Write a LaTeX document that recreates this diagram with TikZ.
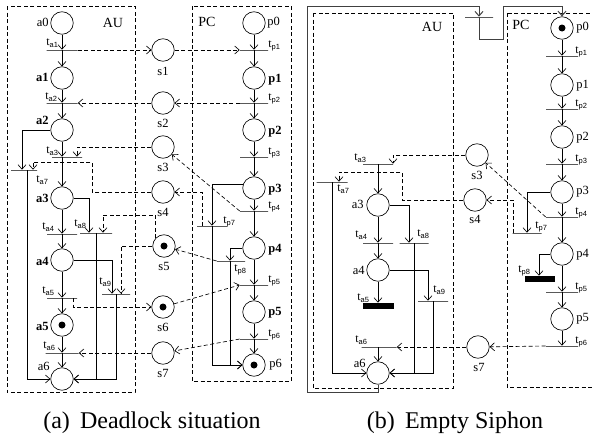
\documentclass[tikz,border=0pt]{standalone}
\usepackage{fontspec}
\setmainfont{Liberation Serif}
\setsansfont{Liberation Sans}
\usetikzlibrary{arrows.meta}
\newcommand\trn[1]{t\raisebox{-2.5pt}{\fontsize{7.5}{8}\selectfont\sffamily #1}}
\begin{document}
\begin{tikzpicture}[x=1pt,y=-1pt,line width=0.65pt,
  >={Straight Barb[length=4.5pt,width=8pt]},
  place/.style={circle,draw,minimum size=22.5pt,inner sep=0pt},
  tok/.style={path picture={\fill (path picture bounding box.center) circle (3.5pt);}},
  tbar/.style={draw,minimum height=0pt,inner sep=0pt,minimum width=#1},
  tbar/.default=30pt,
  bbar/.style={fill=black,minimum height=6pt,inner sep=0pt,minimum width=#1},
  bbar/.default=30pt,
  sarc/.style={->},
  darc/.style={->,dash pattern=on 4pt off 2.5pt},
  dbox/.style={dash pattern=on 4pt off 2.5pt},
  loopc/.style={draw=black!75,line width=1pt},
  lbl/.style={inner sep=0pt,font=\fontsize{12.5}{14}\selectfont},
  blbl/.style={inner sep=0pt,font=\fontsize{12.5}{14}\selectfont\bfseries},
  tlbl/.style={inner sep=0pt,anchor=base west,font=\fontsize{12}{14}\selectfont},
  boxlbl/.style={inner sep=0pt,font=\fontsize{14}{16}\selectfont},
  captxt/.style={inner sep=0pt,anchor=base,font=\fontsize{24}{28}\selectfont}]
\useasboundingbox (0,0) rectangle (592,434);

% ================= panel (a) =================
\draw[dbox] (7,6) rectangle (135,392);
\draw[dbox] (192,6) rectangle (291,381);
\node[boxlbl] (lauA) at (113,23) {AU};
\node[boxlbl] (lpcA) at (207,22) {PC};

% places AU
\node[place] (a0) at (62,23) {};
\node[place] (a1) at (62,78) {};
\node[place] (a2) at (62,130) {};
\node[place] (a3) at (62,198) {};
\node[place] (a4) at (62,260) {};
\node[place,tok] (a5) at (62,325) {};
\node[place] (a6) at (62,379) {};
% transitions AU
\node[tbar=31pt] (ta1) at (62,50) {};
\node[tbar=31pt] (ta2) at (62,103) {};
\node[tbar=30pt] (ta3) at (67,157) {};
\node[tbar=30pt] (ta4) at (62,234) {};
\node[tbar=30pt] (ta5) at (62,298) {};
\node[tbar=33pt] (ta6) at (62,353) {};
\node[tbar=26pt] (ta7) at (24,170) {};
\node[tbar=32pt] (ta8) at (96,233) {};
\node[tbar=28pt] (ta9) at (116,294) {};
% shared places
\node[place] (s1) at (163,50) {};
\node[place] (s2) at (163,103) {};
\node[place] (s3) at (163,147) {};
\node[place] (s4) at (163,192) {};
\node[place,tok] (s5) at (164,246) {};
\node[place,tok] (s6) at (163,307) {};
\node[place] (s7) at (163,353) {};
% places PC
\node[place] (p0) at (254,23) {};
\node[place] (p1) at (254,78) {};
\node[place] (p2) at (254,130) {};
\node[place] (p3) at (254,188) {};
\node[place] (p4) at (254,248) {};
\node[place] (p5) at (254,312) {};
\node[place,tok] (p6) at (254,365) {};
% transitions PC
\node[tbar=28pt] (tp1) at (254,50) {};
\node[tbar=28pt] (tp2) at (254,103) {};
\node[tbar=28pt] (tp3) at (254,157) {};
\node[tbar=28pt] (tp4) at (254,211) {};
\node[tbar=28pt] (tp5) at (254,285) {};
\node[tbar=28pt] (tp6) at (254,339) {};
\node[tbar=30pt] (tp7) at (212,226) {};
\node[tbar=28pt] (tp8) at (231,261) {};

% solid arcs AU
\draw[sarc] (a0) -- (ta1);
\draw[sarc] (ta1) -- (a1);
\draw[sarc] (a1) -- (ta2);
\draw[sarc] (ta2) -- (a2);
\draw[sarc] (a2) -- (a2 |- ta3.north);
\draw[sarc] (a3 |- ta3.south) -- (a3);
\draw[sarc] (a3) -- (ta4);
\draw[sarc] (ta4) -- (a4);
\draw[sarc] (a4) -- (ta5);
\draw[sarc] (ta5) -- (a5);
\draw[sarc] (a5) -- (ta6);
\draw[sarc] (ta6) -- (a6);
\draw[sarc] (a2.west) -| ([xshift=-2pt]ta7.north);
\draw[sarc] ([xshift=3pt]ta7.south) |- (a6.west);
\draw[sarc] (a3.east) -| ([xshift=-7pt]ta8.north);
\draw[sarc] (ta8.south) |- (a6.east);
\draw[sarc] (a4.east) -| ([xshift=-4pt]ta9.north);
\draw[sarc] (ta9.south) |- (a6.east);
% solid arcs PC
\draw[sarc] (p0) -- (tp1);
\draw[sarc] (tp1) -- (p1);
\draw[sarc] (p1) -- (tp2);
\draw[sarc] (tp2) -- (p2);
\draw[sarc] (p2) -- (tp3);
\draw[sarc] (tp3) -- (p3);
\draw[sarc] (p3) -- (tp4);
\draw[sarc] (tp4) -- (p4);
\draw[sarc] (p4) -- (tp5);
\draw[sarc] (tp5) -- (p5);
\draw[sarc] (p5) -- (tp6);
\draw[sarc] (tp6) -- (p6);
\draw[sarc] (p3.160) -| (tp7.north);
\draw[sarc] (tp7.south) |- (p6.west);
\draw[sarc] (p4.west) -| ([xshift=-1pt]tp8.north);
\draw[sarc] ([xshift=-1pt]tp8.south) |- (p6.west);
% dashed arcs
\draw[darc] (ta1.east) -- (s1);
\draw[darc] (s1) -- (tp1.west);
\draw[darc] (tp2.west) -- (s2);
\draw[darc] (s2) -- (ta2.east);
\draw[darc] (s3.west) -| ([xshift=10pt]ta3.north);
\draw[darc] (tp4.west) -- (s3);
\draw[darc] (s4.west) -| (92,162) -| ([xshift=9pt]ta7.north);
\draw[darc] ([xshift=-10pt]tp7.center) |- (s4.east);
\draw[darc] (s5.137) |- (103,215) -- ([xshift=7pt]ta8.north);
\draw[darc] (s5.west) -| ([xshift=5pt]ta9.north);
\draw[darc] ([xshift=11pt]ta5.center) |- (s6.west);
\draw[darc] (s6) -- (tp5.west);
\draw[darc] (tp8.west) -- (s5);
\draw[darc] (s7) -- (ta6.east);
\draw[darc] (tp6.west) -- (s7);

% labels (a)
\node[lbl,anchor=east] (la0) at (49,22) {a0};
\node[blbl,anchor=east] (la1) at (49,77) {a1};
\node[blbl,anchor=east] (la2) at (49,120) {a2};
\node[blbl,anchor=east] (la3) at (49,198) {a3};
\node[blbl,anchor=east] (la4) at (49,261) {a4};
\node[blbl,anchor=east] (la5) at (49,326) {a5};
\node[lbl,anchor=east] (la6) at (50,366) {a6};
\node[lbl,anchor=west] (lp0) at (267,23) {p0};
\node[blbl,anchor=west] (lp1) at (268,80) {p1};
\node[blbl,anchor=west] (lp2) at (268,132) {p2};
\node[blbl,anchor=west] (lp3) at (268,190) {p3};
\node[blbl,anchor=west] (lp4) at (268,250) {p4};
\node[blbl,anchor=west] (lp5) at (268,313) {p5};
\node[lbl,anchor=west] (lp6) at (269,365) {p6};
\node[lbl] (ls1) at (163,71) {s1};
\node[lbl] (ls2) at (163,123) {s2};
\node[lbl] (ls3) at (163,167) {s3};
\node[lbl] (ls4) at (163,212) {s4};
\node[lbl] (ls5) at (164,266) {s5};
\node[lbl] (ls6) at (163,327) {s6};
\node[lbl] (ls7) at (163,373) {s7};
\node[tlbl] (lta1) at (46,45) {\trn{a1}};
\node[tlbl] (lta2) at (45,99) {\trn{a2}};
\node[tlbl] (lta3) at (46,153) {\trn{a3}};
\node[tlbl] (lta7) at (36,182) {\trn{a7}};
\node[tlbl] (lta4) at (42,229) {\trn{a4}};
\node[tlbl] (lta8) at (74,226) {\trn{a8}};
\node[tlbl] (lta5) at (42,293) {\trn{a5}};
\node[tlbl] (lta9) at (99,284) {\trn{a9}};
\node[tlbl] (lta6) at (43,348) {\trn{a6}};
\node[tlbl] (ltp1) at (268,47) {\trn{p1}};
\node[tlbl] (ltp2) at (268,100) {\trn{p2}};
\node[tlbl] (ltp3) at (268,154) {\trn{p3}};
\node[tlbl] (ltp4) at (268,208) {\trn{p4}};
\node[tlbl] (ltp5) at (268,282) {\trn{p5}};
\node[tlbl] (ltp6) at (268,336) {\trn{p6}};
\node[tlbl] (ltp7) at (223,223) {\trn{p7}};
\node[tlbl] (ltp8) at (234,271) {\trn{p8}};

% ================= panel (b) =================
\draw[dbox] (313,13) rectangle (453,388);
\draw[dbox] (507,13) rectangle (600,387);
\node[boxlbl] (lauB) at (432,27) {AU};
\node[boxlbl] (lpcB) at (521,25) {PC};

\node[place] (ba3) at (378,205) {};
\node[place] (ba4) at (378,270) {};
\node[place] (ba6) at (378,373) {};
\node[place,tok] (bp0) at (562,28) {};
\node[place] (bp1) at (562,85) {};
\node[place] (bp2) at (562,137) {};
\node[place] (bp3) at (562,192) {};
\node[place] (bp4) at (562,254) {};
\node[place] (bp5) at (562,319) {};
\node[place] (bs3) at (477,155) {};
\node[place] (bs4) at (475,200) {};
\node[place] (bs7) at (478,347) {};

\node[tbar=30pt] (bta3) at (378,164) {};
\node[tbar=31pt] (bta7) at (332,182) {};
\node[tbar=30pt] (bta4) at (378,243) {};
\node[tbar=29pt] (bta8) at (414,243) {};
\node[bbar=31pt] (bta5) at (378,306) {};
\node[tbar=30pt] (bta9) at (433,301) {};
\node[tbar=35pt] (bta6) at (379,347) {};
\node[tbar=32pt] (btp1) at (562,56) {};
\node[tbar=32pt] (btp2) at (562,109) {};
\node[tbar=32pt] (btp3) at (562,164) {};
\node[tbar=32pt] (btp4) at (562,217) {};
\node[tbar=32pt] (btp5) at (562,292) {};
\node[tbar=32pt] (btp6) at (562,346) {};
\node[tbar=29pt] (btp7) at (527,233) {};
\node[bbar=30pt] (btp8) at (540,279) {};
\node[tbar=28pt] (btidle) at (479,17) {};

% solid arcs (b)
\draw[sarc] (bta3) -- (ba3);
\draw[sarc] (ba3) -- (bta4);
\draw[sarc] (bta4) -- (ba4);
\draw[sarc] (ba4) -- (bta5);
\draw[sarc] (ba3.east) -| ([xshift=-5pt]bta8.north);
\draw[sarc] (bta8.south) |- (ba6.east);
\draw[sarc] (ba4.east) -| ([xshift=-5pt]bta9.north);
\draw[sarc] (bta9.south) |- (ba6.east);
\draw[sarc] (bta7.south) |- (ba6.west);
\draw[sarc] (bta6.south -| ba6) -- (ba6);
\draw[sarc] (bp0) -- (btp1);
\draw[sarc] (btp1) -- (bp1);
\draw[sarc] (bp1) -- (btp2);
\draw[sarc] (btp2) -- (bp2);
\draw[sarc] (bp2) -- (btp3);
\draw[sarc] (btp3) -- (bp3);
\draw[sarc] (bp3) -- (btp4);
\draw[sarc] (btp4) -- (bp4);
\draw[sarc] (bp4) -- (btp5);
\draw[sarc] (btp5) -- (bp5);
\draw[sarc] (bp5) -- (btp6);
\draw[sarc] (bp3.west) -| (btp7.north);
\draw[sarc] (bp4.west) -| ([xshift=-1pt]btp8.north);
\draw[sarc,loopc] (ba6.south) -- ++(0,8) -| (307,6) -| (btidle.north);
\draw[sarc,loopc] (btidle.south) -- ++(0,22) -| (503,6) -| (bp0.north);
% dashed arcs (b)
\draw[darc] (bs3.west) -| ([xshift=15pt]bta3.north);
\draw[darc] (btp4.west) -- (bs3);
\draw[darc] (bs4.west) -| (402,172) -| ([xshift=7pt]bta7.north);
\draw[darc] ([xshift=-14pt]btp7.center) |- (bs4.east);
\draw[darc] (bs7) -- (bta6.east);
\draw[darc] (btp6.west) -- (bs7);

% labels (b)
\node[lbl,anchor=east] (lba3) at (364,204) {a3};
\node[lbl,anchor=east] (lba4) at (365,270) {a4};
\node[lbl,anchor=east] (lba6) at (366,363) {a6};
\node[lbl,anchor=west] (lbp0) at (576,28) {p0};
\node[lbl,anchor=west] (lbp1) at (576,86) {p1};
\node[lbl,anchor=west] (lbp2) at (576,138) {p2};
\node[lbl,anchor=west] (lbp3) at (576,192) {p3};
\node[lbl,anchor=west] (lbp4) at (576,255) {p4};
\node[lbl,anchor=west] (lbp5) at (576,319) {p5};
\node[lbl] (lbs3) at (477,175) {s3};
\node[lbl] (lbs4) at (475,219) {s4};
\node[lbl] (lbs7) at (479,367) {s7};
\node[tlbl] (lbta3) at (354,160) {\trn{a3}};
\node[tlbl] (lbta7) at (337,191) {\trn{a7}};
\node[tlbl] (lbta4) at (355,237) {\trn{a4}};
\node[tlbl] (lbta8) at (417,236) {\trn{a8}};
\node[tlbl] (lbta9) at (433,292) {\trn{a9}};
\node[tlbl] (lbta5) at (357,300) {\trn{a5}};
\node[tlbl] (lbta6) at (355,342) {\trn{a6}};
\node[tlbl] (lbtp1) at (575,53) {\trn{p1}};
\node[tlbl] (lbtp2) at (575,106) {\trn{p2}};
\node[tlbl] (lbtp3) at (575,161) {\trn{p3}};
\node[tlbl] (lbtp4) at (575,214) {\trn{p4}};
\node[tlbl] (lbtp5) at (575,289) {\trn{p5}};
\node[tlbl] (lbtp6) at (575,343) {\trn{p6}};
\node[tlbl] (lbtp7) at (535,228) {\trn{p7}};
\node[tlbl] (lbtp8) at (518,272) {\trn{p8}};

% captions
\node[captxt] (capa) at (152,428) {(a)\hspace{0.42em}Deadlock situation};
\node[captxt] (capb) at (455,428) {(b)\hspace{0.42em}Empty Siphon};
\end{tikzpicture}
\end{document}
